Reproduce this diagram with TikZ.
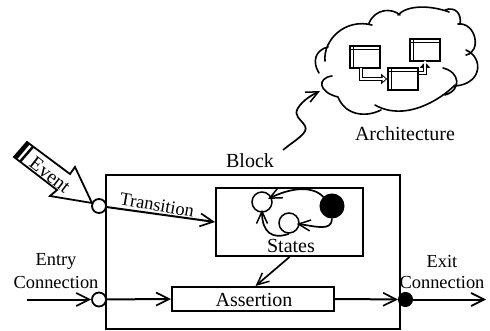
\documentclass[tikz,border=0pt]{standalone}
\usepackage{fontspec}
\setmainfont{Liberation Serif}
\usetikzlibrary{arrows.meta}
\tikzset{
  bar/.style={-{Straight Barb[length=13pt,width=13pt,line width=1.7pt]},draw=black,line width=2pt},
  thinbar/.style={-{Straight Barb[length=12pt,width=11pt,line width=1.5pt]},draw=black,line width=1.7pt},
  box/.style={draw=black,line width=2pt,fill=white,inner sep=0pt},
  portopen/.style={circle,draw=black,line width=1.8pt,fill=white,minimum size=14pt,inner sep=0pt},
  portfull/.style={circle,draw=black,line width=1pt,fill=black,minimum size=14pt,inner sep=0pt},
  label/.style={inner sep=0pt,font=\fontsize{18.4}{20}\selectfont},
  biglabel/.style={inner sep=0pt,font=\fontsize{20}{22}\selectfont},
  win/.style={draw=black,line width=1.6pt},
  dblout/.style={draw=black,line width=4.4pt,-{Triangle[length=6pt,width=10pt]}},
  dblin/.style={draw=white,line width=1.6pt,-{Triangle[length=3pt,width=5pt]}},
}
\begin{document}
\begin{tikzpicture}[x=1pt,y=-1pt]
\useasboundingbox (0,0) rectangle (490,331);
% block
\node[box,minimum width=294pt,minimum height=154pt] (block) at (253,252) {};
\node[box,minimum width=147pt,minimum height=68pt] (states) at (289.5,222) {};
\node[box,minimum width=162pt,minimum height=24pt] (assert) at (253,299) {};
\node[biglabel] (assertt) at (254,300) {Assertion};
\node[biglabel] (statest) at (291,246) {States};
\node[biglabel] (blockt) at (250,161) {Block};
\node[biglabel] (archt) at (405,134) {Architecture};
\node[label] (entryt) at (56,261) {Entry};
\node[label] (connl) at (56,282) {Connection};
\node[label] (exitt) at (442,261) {Exit};
\node[label] (connr) at (442,282) {Connection};
\node[label,rotate=-10] (transt) at (157,205) {Transition};
% ports
\node[portopen] (pin) at (99,299.5) {};
\node[portopen] (pev) at (99,206) {};
\node[portfull] (pout) at (405.5,299.5) {};
\coordinate (inS) at (27,299.5);
\coordinate (outE) at (486,299.5);
\draw[bar] (inS) -- (pin);
\draw[bar] (pin) -- (assert.west);
\draw[bar] (assert.east) -- (pout);
\draw[bar] (pout) -- (outE);
\draw[bar] (pev) -- (states.west);
\draw[thinbar] (states.south) -- ++(-34,29) coordinate (sa);
% event
\draw[draw=black,line width=1.8pt,fill=white] (14,157) -- (27,142) -- (70,174) -- (75,167) -- (92,203) -- (50,196) -- (57,190) -- cycle;
\fill (14,157) -- (27,142) -- (30,144) -- (17,159.5) -- cycle;
\fill (19,161) -- (32,146) -- (34,147.5) -- (21,162.5) -- cycle;
\node[inner sep=0pt,font=\fontsize{19.5}{21}\selectfont,rotate=-38] (eventt) at (50,175) {Event};
% state machine
\node[portfull,minimum size=24pt] (s0) at (332,206) {};
\node[portopen,minimum size=20pt,line width=1.5pt] (s1) at (262,202) {};
\node[portopen,minimum size=20pt,line width=1.5pt] (s2) at (289,223) {};
\draw[thinbar,shorten >=-4pt] (s0) .. controls (312,185) and (290,188) .. (s1);
\draw[thinbar,shorten >=-3pt] (s0.south) .. controls (332,232) and (315,226) .. (s2);
\draw[thinbar,shorten >=-3pt] (s2.south) .. controls (272,240) and (262,232) .. (s1);
% cloud
\draw[line width=1.6pt,line cap=round]
 (332,76) .. controls (317,78) and (318,92) .. (338,97)
 (319,73) .. controls (312,62) and (315,50) .. (328,47)
 (325,61) .. controls (323,40) and (345,18) .. (372,25)
 (369,23) .. controls (376,8) and (392,8) .. (400,15)
 (398,15) .. controls (407,5) and (430,5) .. (449,12)
 (445,10) .. controls (455,6) and (462,14) .. (460,24)
 (458,24) .. controls (476,22) and (482,52) .. (466,55)
 (466,50) .. controls (484,58) and (482,84) .. (455,86)
 (443,68) .. controls (460,72) and (462,90) .. (445,95)
 (455,85) .. controls (440,100) and (405,122) .. (375,105)
 (381,110) .. controls (365,118) and (345,115) .. (338,97);
% window icons
\node[win,minimum width=30pt,minimum height=22pt,inner sep=0pt] (w1) at (365,57) {};
\node[win,minimum width=30pt,minimum height=22pt,inner sep=0pt] (w2) at (403,79) {};
\node[win,minimum width=30pt,minimum height=22pt,inner sep=0pt] (w3) at (425,50) {};
\foreach \w in {w1,w2,w3}{
  \draw[line width=1pt] ([yshift=-4pt]\w.north west) -- ([yshift=-4pt]\w.north east);
  \draw[line width=1pt] ([xshift=4pt]\w.north west) -- ([xshift=4pt]\w.south west);
}
\draw[dblout] ([xshift=12pt]w1.south west) |- (w2.west);
\draw[dblin] ([xshift=12pt,yshift=1pt]w1.south west) |- ([xshift=-1.5pt]w2.west);
\draw[dblout] ([yshift=6pt]w2.east) -| (w3.south);
\draw[dblin] ([yshift=6pt]w2.east) -| ([yshift=1.5pt]w3.south);
% squiggle
\coordinate (sq) at (283,150);
\coordinate (sqe) at (320,91);
\draw[thinbar] (sq) .. controls (295,140) and (309,133) .. (305,126) .. controls (301,119) and (293,116) .. (298,108) .. controls (303,100) and (312,95) .. (sqe);
\end{tikzpicture}
\end{document}
